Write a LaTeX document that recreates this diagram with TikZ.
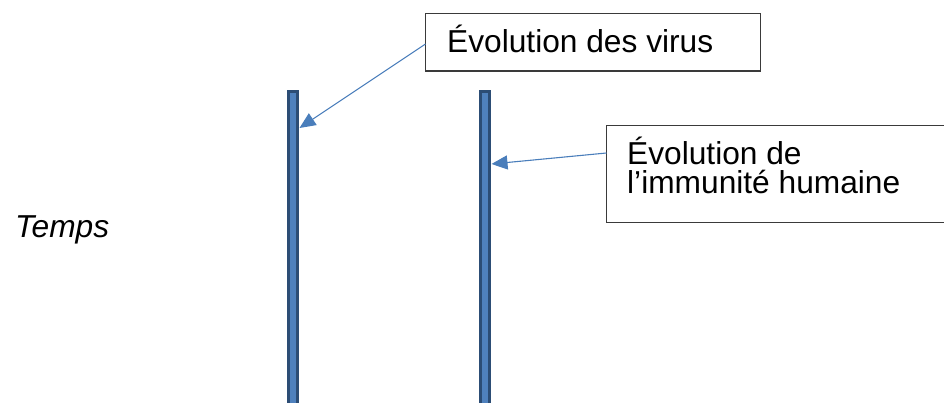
\documentclass[tikz,border=0pt]{standalone}
\usepackage{fontspec}
\setmainfont{Liberation Sans}
\usetikzlibrary{arrows.meta,calc}
\definecolor{barfill}{HTML}{4F81BD}
\definecolor{barline}{HTML}{2C4D75}
\definecolor{arrowblue}{HTML}{4A7EBB}
\definecolor{boxline}{HTML}{3A3A3A}
\tikzset{
  timebar/.style={draw=barline, fill=barfill, line width=2.6pt},
  labelbox/.style={draw=boxline, line width=1.5pt},
  labeltext/.style={anchor=base west, inner sep=0pt, font=\fontsize{31.7}{28}\selectfont, align=left},
  pointer/.style={draw=arrowblue, line width=1.1pt, -{Triangle[length=16pt,width=14pt]}}
}
\begin{document}
\begin{tikzpicture}[x=1pt, y=-1pt]
  \useasboundingbox (0,0) rectangle (944,403);
  \clip (0,0) rectangle (944,403);

  % two time lines
  \draw[timebar] (288.3,91.3) rectangle (297.7,412) node[pos=0.5, inner sep=0pt] (bar1) {};
  \draw[timebar] (480.3,91.3) rectangle (489.7,412) node[pos=0.5, inner sep=0pt] (bar2) {};
  \coordinate (tip1) at (299.5,128);
  \coordinate (tip2) at (491.5,164);

  % label boxes
  \draw[labelbox] (425.5,13.5) rectangle (760.5,71) node[pos=0.5, inner sep=0pt] (box1) {};
  \draw[labelbox] (606.5,125.5) rectangle (950,222.5) node[pos=0.5, inner sep=0pt] (box2) {};
  \coordinate (from1) at (425.5,44);
  \coordinate (from2) at (606.5,153);

  % texts
  \node[labeltext] (t1) at (447,53) {Évolution des virus};
  \node[labeltext] (t2a) at (627,165) {Évolution de};
  \node[labeltext] (t2b) at (627,193.5) {l’immunité humaine};
  \node[labeltext, font=\fontsize{31.7}{28}\selectfont\itshape] (temps) at (15,237) {Temps};

  % pointers
  \draw[pointer] (from1) -- (tip1);
  \draw[pointer] (from2) -- (tip2);
\end{tikzpicture}
\end{document}
